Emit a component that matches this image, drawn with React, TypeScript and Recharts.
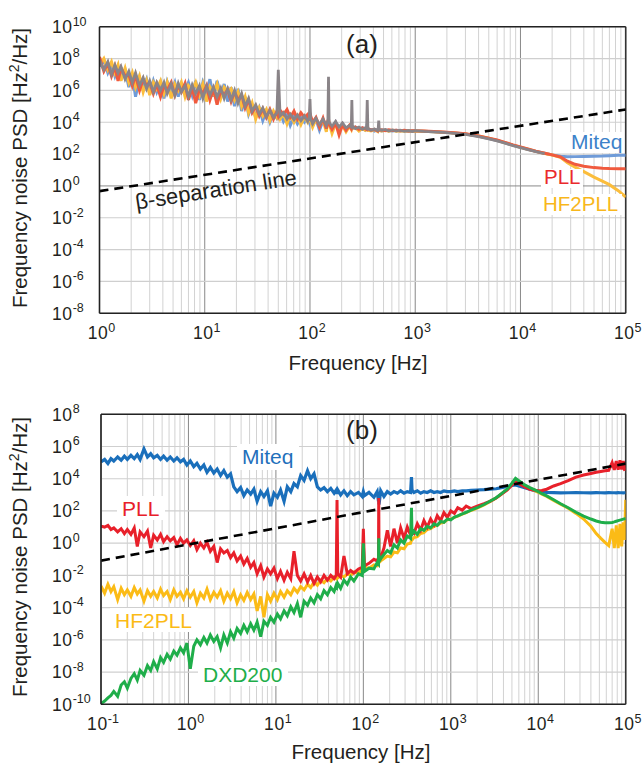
import React from 'react';
import { LineChart, Line, XAxis, YAxis, CartesianGrid, ReferenceLine } from 'recharts';

// ---------- Panel (a) data (values are log10 of PSD in Hz^2/Hz) ----------
const A_FREQ = [
  1, 1.1, 1.2, 1.3, 1.4, 1.5, 1.6, 1.75, 1.9, 2.05,
  2.2, 2.4, 2.6, 2.8, 3.0, 3.25, 3.5, 3.8, 4.1, 4.4,
  4.8, 5.2, 5.6, 6.0, 6.5, 7.0, 7.6, 8.2, 8.9, 9.6,
  10.4, 11.2, 12.1, 13.1, 14.2, 15.3, 16.5, 17.8, 19.2, 20.7,
  22.4, 24.2, 26.1, 28.2, 30.5, 33, 35.6, 38.5, 41.6, 45,
  48.5, 50, 52, 56, 60.5, 65, 70.5, 76, 82, 88.5,
  95, 98.5, 100, 101.5, 106, 114, 123, 133, 143, 148,
  150, 152, 162, 175, 189, 204, 220, 237, 247, 250,
  253, 270, 292, 315, 335, 345, 350, 355, 380, 410,
  440, 445, 450, 455, 480, 520, 560, 610, 660, 720,
  790, 860, 940, 1000, 1200, 1500, 2000, 2500, 3000, 4000,
  5000, 6000, 7000, 8500, 10000, 12000, 14000, 17000, 20000, 24000,
  28000, 33000, 40000, 50000, 60000, 70000, 85000, 100000,
];
const A_MITEQ = [
  7.5, 7.9, 7.1, 7.6, 6.9, 7.5, 6.8, 7.3, 6.2, 7.0,
  5.6, 6.8, 6.2, 6.7, 5.8, 6.6, 5.9, 6.5, 5.5, 6.55,
  5.9, 6.5, 5.6, 6.4, 6.0, 6.5, 5.7, 6.6, 5.4, 6.5,
  5.9, 6.7, 5.6, 6.6, 5.7, 6.4, 5.3, 6.2, 5.0, 6.1,
  4.7, 5.6, 4.5, 5.1, 4.3, 4.9, 4.1, 4.7, 4.0, 4.6,
  4.25, 4.4, 4.6, 4.05, 4.45, 3.8, 4.35, 3.9, 4.3, 4.0,
  4.3, 4.0, 4.2, 4.3, 3.8, 4.2, 3.5, 4.1, 3.7, 4.0,
  4.1, 3.9, 3.6, 4.0, 3.4, 3.9, 3.6, 3.75, 3.65, 3.8,
  3.6, 3.7, 3.5, 3.65, 3.5, 3.6, 3.9, 3.55, 3.55, 3.45,
  3.55, 3.5, 3.6, 3.5, 3.45, 3.5, 3.48, 3.45, 3.5, 3.45,
  3.48, 3.44, 3.46, 3.45, 3.43, 3.4, 3.36, 3.31, 3.26, 3.12,
  2.98, 2.85, 2.72, 2.55, 2.42, 2.28, 2.17, 2.05, 1.95, 1.86,
  1.83, 1.84, 1.85, 1.87, 1.88, 1.9, 1.92, 1.93,
];
const A_PLL = [
  8.1, 7.2, 7.7, 6.9, 7.5, 6.6, 7.4, 6.9, 7.0, 6.3,
  6.95, 6.0, 6.7, 6.3, 6.5, 5.8, 6.4, 5.6, 6.3, 6.0,
  6.5, 5.7, 6.3, 5.9, 6.45, 5.4, 6.2, 5.2, 6.1, 5.8,
  6.3, 5.4, 6.1, 5.1, 6.0, 5.7, 6.05, 5.3, 5.9, 5.4,
  5.7, 4.9, 5.4, 4.6, 5.0, 4.4, 4.85, 4.3, 4.8, 4.2,
  4.7, 4.4, 4.75, 4.5, 4.8, 4.3, 4.7, 4.2, 4.6, 4.3,
  4.5, 4.1, 4.3, 4.4, 4.0, 4.3, 3.7, 4.25, 3.6, 4.1,
  4.2, 3.9, 3.55, 3.95, 3.2, 3.85, 3.5, 3.8, 3.6, 3.75,
  3.65, 3.7, 3.55, 3.65, 3.6, 3.55, 3.7, 3.6, 3.5, 3.55,
  3.45, 3.52, 3.55, 3.5, 3.52, 3.47, 3.52, 3.48, 3.5, 3.46,
  3.49, 3.45, 3.47, 3.46, 3.45, 3.42, 3.37, 3.32, 3.27, 3.14,
  3.0, 2.88, 2.75, 2.58, 2.45, 2.3, 2.18, 2.05, 1.95, 1.82,
  1.55, 1.36, 1.24, 1.15, 1.11, 1.09, 1.08, 1.08,
];
const A_HF2PLL = [
  7.6, 8.0, 7.3, 7.8, 7.1, 7.6, 6.6, 7.4, 6.5, 7.1,
  6.2, 6.9, 5.9, 6.6, 5.7, 6.5, 6.1, 6.6, 5.8, 6.5,
  5.5, 6.4, 6.0, 6.5, 5.6, 6.3, 6.0, 6.5, 5.7, 6.4,
  5.3, 6.2, 5.8, 6.4, 5.5, 6.2, 5.9, 6.1, 5.4, 5.9,
  5.0, 5.6, 4.6, 5.2, 4.2, 4.9, 4.4, 4.8, 4.1, 4.7,
  4.3, 4.5, 4.2, 4.55, 3.9, 4.45, 4.0, 4.4, 3.85, 4.35,
  4.0, 4.25, 4.3, 4.1, 3.7, 4.2, 3.8, 4.15, 3.4, 4.0,
  4.1, 3.95, 3.3, 3.9, 3.6, 3.8, 3.4, 3.75, 3.55, 3.7,
  3.6, 3.68, 3.45, 3.6, 3.5, 3.55, 3.6, 3.5, 3.45, 3.55,
  3.42, 3.5, 3.55, 3.48, 3.45, 3.5, 3.44, 3.49, 3.43, 3.47,
  3.44, 3.46, 3.43, 3.45, 3.44, 3.41, 3.36, 3.31, 3.26, 3.13,
  2.99, 2.86, 2.73, 2.56, 2.43, 2.29, 2.17, 2.04, 1.94, 1.8,
  1.45, 1.18, 0.9, 0.55, 0.3, 0.08, -0.3, -0.7,
];
// grey trace (covers 1 Hz .. 17 kHz)
const A_GREY = [
  7.9, 7.3, 7.8, 7.0, 7.6, 7.1, 7.5, 6.7, 7.2, 6.5,
  7.1, 6.3, 6.8, 6.1, 6.6, 5.9, 6.5, 6.0, 6.5, 5.8,
  6.4, 5.7, 6.45, 5.9, 6.3, 5.6, 6.35, 5.8, 6.3, 5.5,
  6.25, 5.7, 6.2, 5.6, 6.15, 5.5, 6.1, 5.4, 6.0, 5.2,
  5.8, 5.0, 5.5, 4.7, 5.1, 4.5, 4.9, 4.35, 4.75, 4.3,
  4.6, 7.3, 4.4, 4.6, 4.2, 4.5, 4.15, 4.45, 4.1, 4.4,
  4.05, 4.3, 5.45, 4.2, 3.9, 4.25, 3.85, 4.2, 3.8, 4.1,
  6.85, 4.0, 3.75, 4.05, 3.7, 3.95, 3.65, 3.8, 3.7, 5.4,
  3.75, 3.6, 3.7, 3.55, 3.65, 3.6, 5.4, 3.6, 3.5, 3.58,
  3.48, 3.6, 4.1, 3.55, 3.5, 3.55, 3.45, 3.52, 3.45, 3.5,
  3.43, 3.48, 3.42, 3.47, 3.42, 3.39, 3.35, 3.29, 3.24, 3.1,
  2.96, 2.83, 2.7, 2.53, 2.4, 2.26, 2.15, 2.02,
];
const A_BETA_F = [1, 100000];
const A_BETA_V = [0.47, 63000];

// ---------- Panel (b) data ----------
const B_FREQ = [
  0.1, 0.11, 0.12, 0.13, 0.14, 0.155, 0.17, 0.185, 0.2, 0.22,
  0.24, 0.26, 0.28, 0.31, 0.34, 0.37, 0.4, 0.44, 0.48, 0.52,
  0.57, 0.62, 0.68, 0.74, 0.81, 0.88, 0.96, 1.05, 1.15, 1.25,
  1.37, 1.5, 1.63, 1.78, 1.95, 2.13, 2.33, 2.54, 2.78, 3.03,
  3.3, 3.6, 3.95, 4.3, 4.7, 5.15, 5.6, 6.1, 6.7, 7.3,
  8.0, 8.7, 9.5, 10.4, 11.3, 12.4, 13.5, 14.8, 16.1, 17.6,
  19.2, 21, 23, 25, 27.3, 29.8, 32.5, 35.5, 38.8, 42.4,
  46.3, 49, 50, 51, 55, 60, 65.5, 71.5, 78, 88,
  97, 100, 103, 116, 132, 144, 149, 150, 151, 158,
  172, 188, 205, 224, 245, 267, 292, 318, 347, 355,
  360, 379, 414, 452, 493, 538, 588, 642, 700, 765,
  835, 912, 1000, 1100, 1200, 1350, 1500, 1700, 2000, 2400,
  2800, 3300, 3800, 4400, 5000, 5500, 6000, 7000, 8000, 9000,
  10000, 11000, 12500, 15000, 18000, 22000, 27000, 33000, 40000, 46000,
  52000, 58000, 64000, 70000, 74000, 78000, 82000, 86000, 90000, 94000,
  97000, 100000,
];
const B_MITEQ = [
  5.05, 5.2, 4.95, 5.25, 5.1, 5.35, 5.15, 5.4, 5.2, 5.45,
  5.25, 5.5, 5.2, 5.85, 5.35, 5.55, 5.3, 5.45, 5.2, 5.4,
  5.15, 5.35, 5.1, 5.3, 5.05, 5.2, 4.85, 5.1, 4.75, 4.95,
  4.6, 4.85, 4.4, 4.7, 4.35, 4.6, 4.2, 4.5, 4.1, 4.3,
  3.5, 3.2, 3.45, 2.95, 3.3, 3.05, 3.35, 2.6, 3.2, 2.9,
  3.25, 2.3, 3.1, 2.85, 3.3, 2.6, 3.5, 3.2, 3.7, 3.5,
  4.2, 3.9, 4.5, 4.0, 4.3, 3.5, 3.3, 3.45, 3.2, 3.4,
  3.1, 3.3, 3.05, 3.3, 3.0, 3.25, 2.95, 3.2, 3.0, 3.15,
  2.9, 3.2, 2.95, 3.15, 2.85, 3.2, 2.6, 3.1, 2.4, 3.25,
  2.9, 3.2, 3.05, 3.2, 3.1, 3.25, 3.1, 3.2, 3.15, 4.1,
  3.3, 3.15, 3.25, 3.1, 3.2, 3.15, 3.25, 3.15, 3.2, 3.15,
  3.25, 3.2, 3.2, 3.25, 3.2, 3.25, 3.25, 3.28, 3.3, 3.32,
  3.35, 3.38, 3.45, 3.52, 3.58, 3.62, 3.55, 3.45, 3.35, 3.28,
  3.22, 3.18, 3.15, 3.14, 3.12, 3.13, 3.14, 3.13, 3.12, 3.14,
  3.13, 3.12, 3.14, 3.13, 3.13, 3.12, 3.14, 3.13, 3.13, 3.12,
  3.13, 3.13,
];
const B_PLL = [
  1.05, 1.0, 1.1, 0.85, 0.95, 0.7, 0.9, 0.6, 0.85, 0.55,
  0.95, -0.2, 0.7, 0.4, 0.75, -0.3, 0.5, 0.2, 0.55, 0.1,
  0.4, 0.15, 0.35, -0.1, 0.3, 0.0, 0.2, -0.15, 0.15, -0.4,
  0.0, -0.3, 0.05, -0.5, -0.2, -1.2, -0.35, -0.6, -0.45, -0.9,
  -0.6, -1.1, -0.8, -1.3, -0.95, -1.5, -1.2, -1.9, -1.4, -2.1,
  -1.6, -1.9, -1.55, -2.2, -1.75, -2.3, -1.8, -2.2, -0.5, -2.0,
  -2.35, -1.9, -2.4, -2.0, -2.5, -2.1, -2.4, -2.0, -2.3, -2.0,
  -2.2, -2.0, 2.68, -1.9, -2.1, -0.8, -1.9, -1.7, -1.85, -1.6,
  -1.5, 0.9, -1.4, -1.25, -1.0, -1.1, -0.9, 2.8, -0.8, -0.9,
  -0.3, 0.8, -0.2, 0.9, 0.0, 0.95, 0.3, 1.0, 0.5, 0.6,
  0.7, 0.6, 1.2, 0.8, 1.4, 1.0, 1.5, 1.15, 1.7, 1.4,
  1.9, 1.6, 2.0, 1.85, 2.2, 2.05, 2.3, 2.15, 2.3, 2.45,
  2.6, 2.8, 3.05, 3.3, 3.6, 3.82, 3.7, 3.5, 3.35, 3.28,
  3.26, 3.27, 3.35, 3.55, 3.7, 3.88, 4.1, 4.23, 4.33, 4.4,
  4.45, 4.5, 4.52, 5.0, 4.55, 5.1, 4.56, 5.15, 4.57, 5.1,
  4.58, 4.6,
];
const B_HF2PLL = [
  -2.65, -3.1, -2.55, -3.0, -2.7, -3.5, -2.8, -3.2, -2.9, -3.3,
  -2.75, -3.15, -2.9, -3.6, -2.95, -3.3, -3.0, -3.4, -2.85, -3.25,
  -3.0, -3.5, -2.9, -3.3, -3.05, -3.45, -2.95, -3.35, -3.0, -3.7,
  -3.1, -3.4, -2.85, -3.5, -3.05, -3.35, -2.95, -3.6, -3.1, -3.45,
  -3.0, -3.7, -3.2, -3.55, -3.05, -3.5, -3.15, -4.2, -3.3, -4.6,
  -3.2, -3.6, -3.1, -3.5, -3.0, -3.35, -2.95, -3.2, -2.8, -3.05,
  -2.7, -2.9, -2.55, -2.75, -2.4, -2.6, -2.3, -2.45, -2.2, -2.35,
  -2.1, -2.2, -1.3, -2.15, -2.0, -2.1, -1.9, -2.0, -1.8, -1.85,
  -1.65, -1.7, -1.5, -1.55, -1.35, -1.4, -1.2, -0.6, -1.2, -1.1,
  -0.95, -0.8, -0.85, -0.55, -0.6, -0.3, -0.35, -0.05, 0.0, 0.2,
  0.2, 0.35, 0.4, 0.6, 0.65, 0.85, 0.9, 1.05, 1.1, 1.25,
  1.3, 1.45, 1.5, 1.6, 1.68, 1.8, 1.9, 2.03, 2.18, 2.38,
  2.58, 2.8, 3.05, 3.32, 3.68, 3.95, 3.8, 3.58, 3.42, 3.28,
  3.16, 3.04, 2.9, 2.66, 2.42, 2.17, 1.85, 1.5, 1.05, 0.6,
  0.3, 0.05, -0.15, 0.9, -0.3, 1.1, -0.3, 1.2, -0.2, 1.3,
  0.2, 2.7,
];
const B_DXD200 = [
  -9.95, -9.8, -9.6, -9.45, -9.2, -9.5, -8.8, -8.6, -9.0, -8.4,
  -8.1, -8.5, -7.9, -8.2, -7.6, -7.9, -7.35, -7.8, -7.1, -7.4,
  -6.9, -7.2, -6.7, -6.95, -6.5, -6.8, -6.2, -7.8, -6.4, -6.0,
  -6.3, -5.85, -6.2, -5.7, -6.1, -5.8, -6.5, -5.7, -6.2, -5.5,
  -5.9, -5.3, -5.6, -5.1, -5.5, -5.0, -5.4, -4.9, -5.8, -4.85,
  -5.1, -4.6, -4.9, -4.4, -4.7, -4.2, -4.5, -3.95, -4.3, -3.75,
  -4.6, -3.6, -3.85, -3.4, -3.7, -3.2, -3.45, -2.95, -3.2, -2.75,
  -3.0, -2.6, -2.7, -2.5, -2.8, -2.3, -2.55, -2.1, -2.35, -1.9,
  -2.0, 0.0, -1.75, -1.55, -1.6, -1.2, -1.3, 0.3, -1.15, -0.95,
  -0.7, -0.45, -0.6, -0.1, -0.3, 0.2, 0.0, 0.45, 0.3, 2.2,
  0.55, 0.75, 0.55, 0.9, 0.8, 1.05, 0.95, 1.2, 1.1, 1.35,
  1.3, 1.5, 1.45, 1.62, 1.7, 1.82, 1.92, 2.05, 2.2, 2.4,
  2.6, 2.82, 3.08, 3.35, 3.72, 4.02, 3.88, 3.62, 3.45, 3.32,
  3.2, 3.08, 2.94, 2.7, 2.45, 2.2, 1.92, 1.68, 1.5, 1.38,
  1.3, 1.27, 1.27, 1.29, 1.32, 1.36, 1.4, 1.43, 1.46, 1.49,
  1.51, 1.53,
];
const B_BETA_F = [0.1, 100000];
const B_BETA_V = [0.083, 87000];

// ---------- ticks ----------
const A_X_TICKS = [1, 10, 100, 1000, 10000, 100000];
const A_Y_TICKS = [1e-8, 1e-6, 1e-4, 1e-2, 1, 1e2, 1e4, 1e6, 1e8, 1e10];
const B_X_TICKS = [0.1, 1, 10, 100, 1000, 10000, 100000];
const B_Y_TICKS = [1e-10, 1e-8, 1e-6, 1e-4, 1e-2, 1, 1e2, 1e4, 1e6, 1e8];
const MINOR_MULTS = [2, 3, 4, 5, 6, 7, 8, 9];

const FONT = '"Liberation Sans", Arial, Helvetica, sans-serif';
const INK = '#231f20';

const toSeries = (freq: number[], logs: number[]) =>
  logs.map((v, i) => ({ f: freq[i], v: Math.pow(10, v) }));
const toLinear = (freq: number[], vals: number[]) =>
  vals.map((v, i) => ({ f: freq[i], v }));
const minorOf = (decades: number[]) => {
  const out: number[] = [];
  decades.slice(0, -1).forEach((d) => MINOR_MULTS.forEach((m) => out.push(d * m)));
  return out;
};
const exponent = (v: number) => Math.round(Math.log10(v));

const dataA = {
  miteq: toSeries(A_FREQ, A_MITEQ),
  pll: toSeries(A_FREQ, A_PLL),
  hf2: toSeries(A_FREQ, A_HF2PLL),
  grey: toSeries(A_FREQ, A_GREY),
  beta: toLinear(A_BETA_F, A_BETA_V),
};
const dataB = {
  miteq: toSeries(B_FREQ, B_MITEQ),
  pll: toSeries(B_FREQ, B_PLL),
  hf2: toSeries(B_FREQ, B_HF2PLL),
  dxd: toSeries(B_FREQ, B_DXD200),
  beta: toLinear(B_BETA_F, B_BETA_V),
};

const YTick = (props: any) => {
  const { y, payload } = props;
  const e = exponent(payload.value);
  return (
    <text x={52} y={y + 6.3} fontSize={17.5} fill={INK} fontFamily={FONT} letterSpacing={0.6}>
      <tspan>10</tspan>
      <tspan dy={-7.5} fontSize={12.5} letterSpacing={0}>{e < 0 ? '-' + Math.abs(e) : String(e)}</tspan>
    </text>
  );
};
const XTick = (props: any) => {
  const { x, y, payload } = props;
  const e = exponent(payload.value);
  return (
    <text x={x + 2} y={y + 25.7} fontSize={17.5} fill={INK} fontFamily={FONT} textAnchor="middle" letterSpacing={0.6}>
      <tspan>10</tspan>
      <tspan dy={-7.5} fontSize={12.5} letterSpacing={0}>{e < 0 ? '-' + Math.abs(e) : String(e)}</tspan>
    </text>
  );
};

const lineProps = { type: 'linear' as const, dataKey: 'v', dot: false, activeDot: false, isAnimationActive: false };

const PanelA = () => (
  <LineChart width={643} height={380} margin={{ top: 26.7, right: 17.3, bottom: 26.7, left: 0 }}>
    <CartesianGrid horizontal={false} verticalValues={minorOf(A_X_TICKS)} stroke="#d2d2d2" strokeWidth={1} />
    <CartesianGrid horizontal={false} verticalValues={A_X_TICKS} stroke="#7a7a7a" strokeWidth={0.9} />
    <CartesianGrid vertical={false} horizontalValues={A_Y_TICKS.filter((t) => t !== 1)} stroke="#cfcfcf" strokeWidth={1.2} />
    <CartesianGrid vertical={false} horizontalValues={[1]} stroke="#8a8a8a" strokeWidth={1} />
    <XAxis dataKey="f" type="number" scale="log" domain={[1, 100000]} ticks={A_X_TICKS} interval={0}
      allowDataOverflow tickLine={false} tickSize={0} tickMargin={0} height={40}
      axisLine={{ stroke: '#222', strokeWidth: 1.6 }} tick={(p: any) => <XTick {...p} />} />
    <YAxis type="number" scale="log" domain={[1e-8, 1e10]} ticks={A_Y_TICKS} interval={0}
      allowDataOverflow tickLine={false} tickSize={0} tickMargin={0} width={99.5}
      axisLine={{ stroke: '#222', strokeWidth: 1.6 }} tick={(p: any) => <YTick {...p} />} />
    <ReferenceLine x={100000} stroke="#333" strokeWidth={1.6} />
    <ReferenceLine y={1e10} stroke="#222" strokeWidth={1.6} />
    <Line {...lineProps} data={dataA.miteq} stroke="#6f9bd8" strokeWidth={3} />
    <Line {...lineProps} data={dataA.hf2} stroke="#fbbd3c" strokeWidth={3} />
    <Line {...lineProps} data={dataA.pll} stroke="#f05a3e" strokeWidth={3} />
    <Line {...lineProps} data={dataA.grey} stroke="#8a8488" strokeWidth={2.8} />
    <Line {...lineProps} data={dataA.beta} stroke="#000" strokeWidth={2.6} strokeDasharray="9 6" />
  </LineChart>
);

const PanelB = () => (
  <LineChart width={643} height={389} margin={{ top: 34.3, right: 17.3, bottom: 24.7, left: 0 }}>
    <CartesianGrid horizontal={false} verticalValues={minorOf(B_X_TICKS)} stroke="#d2d2d2" strokeWidth={1} />
    <CartesianGrid horizontal={false} verticalValues={B_X_TICKS} stroke="#7a7a7a" strokeWidth={0.9} />
    <CartesianGrid vertical={false} horizontalValues={B_Y_TICKS} stroke="#cfcfcf" strokeWidth={1.2} />
    <XAxis dataKey="f" type="number" scale="log" domain={[0.1, 100000]} ticks={B_X_TICKS} interval={0}
      allowDataOverflow tickLine={false} tickSize={0} tickMargin={0} height={40}
      axisLine={{ stroke: '#222', strokeWidth: 1.6 }} tick={(p: any) => <XTick {...p} />} />
    <YAxis type="number" scale="log" domain={[1e-10, 1e8]} ticks={B_Y_TICKS} interval={0}
      allowDataOverflow tickLine={false} tickSize={0} tickMargin={0} width={101}
      axisLine={{ stroke: '#222', strokeWidth: 1.6 }} tick={(p: any) => <YTick {...p} />} />
    <ReferenceLine x={100000} stroke="#333" strokeWidth={1.6} />
    <ReferenceLine y={1e8} stroke="#222" strokeWidth={1.6} />
    <Line {...lineProps} data={dataB.miteq} stroke="#1a6fbb" strokeWidth={3.2} />
    <Line {...lineProps} data={dataB.hf2} stroke="#fbbb16" strokeWidth={3} />
    <Line {...lineProps} data={dataB.pll} stroke="#e8202a" strokeWidth={3} />
    <Line {...lineProps} data={dataB.dxd} stroke="#1fae4a" strokeWidth={3} />
    <Line {...lineProps} data={dataB.beta} stroke="#000" strokeWidth={2.6} strokeDasharray="9 6" />
  </LineChart>
);

const Label = ({ x, y, w, h, tx, ty, color, size, children }: any) => (
  <g>
    <rect x={x} y={y} width={w} height={h} fill="#fff" />
    <text x={tx} y={ty} fill={color} fontSize={size} fontFamily={FONT}>{children}</text>
  </g>
);

export default function App() {
  return (
    <div style={{ position: 'absolute', left: 0, top: 0, width: 643, height: 769, background: '#fff', overflow: 'hidden', fontFamily: FONT }}>
      <div style={{ position: 'absolute', left: 0, top: 0 }}>
        <PanelA />
      </div>
      <div style={{ position: 'absolute', left: 0, top: 380 }}>
        <PanelB />
      </div>
      <svg width={643} height={769} style={{ position: 'absolute', left: 0, top: 0, pointerEvents: 'none' }} fontFamily={FONT}>
        {/* panel (a) */}
        <text transform="translate(27,168) rotate(-90)" textAnchor="middle" fontSize={20.5} fill={INK}>
          Frequency noise PSD [Hz<tspan dy={-8} fontSize={14}>2</tspan><tspan dy={8}>/Hz]</tspan>
        </text>
        <text x={358} y={370} textAnchor="middle" fontSize={20.5} fill={INK}>Frequency [Hz]</text>
        <text x={362} y={53} textAnchor="middle" fontSize={26} fill={INK}>(a)</text>
        <text transform="translate(217,197) rotate(-8.8)" textAnchor="middle" fontSize={22} fill={INK}>β-separation line</text>
        <Label x={567} y={132} w={57} h={21} tx={571} ty={149} color="#3d82c9" size={21}>Miteq</Label>
        <Label x={541} y={169} w={42} h={19} tx={544} ty={184} color="#ea2a2c" size={20.5}>PLL</Label>
        <Label x={540} y={194} w={82} h={21} tx={543} ty={211} color="#f8b71c" size={20.5}>HF2PLL</Label>
        {/* panel (b) */}
        <text transform="translate(27,557) rotate(-90)" textAnchor="middle" fontSize={20.5} fill={INK}>
          Frequency noise PSD [Hz<tspan dy={-8} fontSize={14}>2</tspan><tspan dy={8}>/Hz]</tspan>
        </text>
        <text x={361} y={759} textAnchor="middle" fontSize={20.5} fill={INK}>Frequency [Hz]</text>
        <text x={362} y={439} textAnchor="middle" fontSize={26} fill={INK}>(b)</text>
        <Label x={237} y={444} w={62} h={26} tx={242} ty={464} color="#1f70bb" size={21}>Miteq</Label>
        <Label x={117} y={496} w={48} h={24} tx={122} ty={516} color="#e8202a" size={21}>PLL</Label>
        <Label x={110} y={608} w={88} h={24} tx={115} ty={628} color="#fbbb16" size={21}>HF2PLL</Label>
        <Label x={198} y={662} w={90} h={24} tx={203} ty={682} color="#1fae4a" size={21}>DXD200</Label>
      </svg>
    </div>
  );
}
